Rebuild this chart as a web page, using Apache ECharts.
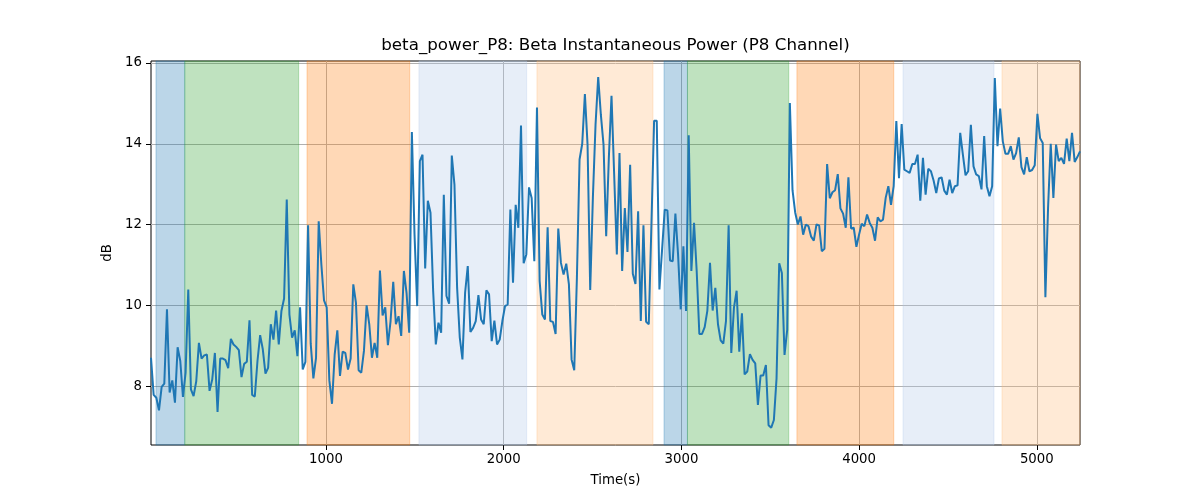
<!DOCTYPE html>
<html><head><meta charset="utf-8">
<script src="https://cdn.jsdelivr.net/npm/echarts@6/dist/echarts.min.js"></script>
<style>html,body{margin:0;padding:0;background:#fff}#c{width:1200px;height:500px}</style>
</head><body><div id="c"></div>
<script>
// ---- data ----
const chartTitle = 'beta_power_P8: Beta Instantaneous Power (P8 Channel)';
const tStart = 15;      // first sample time (s)
const tStep = 14.98;    // sampling step (s)
const powerDb = [
  8.70,7.78,7.71,7.40,7.98,8.06,9.90,7.84,8.14,7.59,8.96,8.62,7.73,8.33,10.39,7.92,7.75,8.12,9.07,8.68,8.76,8.78,7.88,8.16,8.82,7.36,8.68,8.68,8.64,8.44,9.17,9.03,8.97,8.89,8.22,8.55,8.60,9.63,7.78,7.74,8.62,9.26,8.91,8.31,
  8.45,9.53,9.15,9.87,9.03,9.86,10.17,12.62,9.77,9.20,9.38,8.74,9.95,8.41,8.60,11.98,9.05,8.19,8.70,12.08,11.01,10.12,9.95,8.14,7.56,8.78,9.38,8.25,8.85,8.82,8.41,8.68,10.52,10.06,8.39,8.33,8.87,10.00,9.53,8.70,9.07,8.70,10.86,9.75,
  9.95,9.01,9.61,10.58,9.53,9.73,9.24,10.85,10.31,9.32,14.29,11.75,9.98,13.57,13.73,10.91,12.59,12.29,10.35,9.03,9.57,9.32,12.74,10.23,10.04,13.71,12.99,10.43,9.20,8.66,10.31,10.97,9.34,9.44,9.61,10.25,9.65,9.53,10.37,10.27,9.11,9.62,9.03,9.15,
  9.61,9.98,10.02,12.37,10.56,12.49,11.92,14.45,11.04,11.26,12.92,12.66,11.09,14.90,10.60,9.77,9.65,11.93,9.61,9.59,9.29,11.90,11.05,10.76,11.03,10.52,8.66,8.39,10.68,13.61,14.00,15.23,13.98,10.38,12.66,14.47,15.65,14.72,13.98,11.71,13.65,15.19,13.24,11.26,
  13.77,10.85,12.41,11.32,13.48,10.78,10.53,12.33,9.61,11.98,9.59,9.53,12.00,14.57,14.57,10.39,11.38,12.37,12.35,11.11,11.09,12.27,11.26,9.90,11.46,9.86,14.21,10.85,12.04,10.85,9.29,9.29,9.46,9.86,11.05,9.87,10.43,9.53,9.13,9.05,9.61,11.98,8.82,9.94,
  10.36,8.85,9.80,8.29,8.36,8.79,8.65,8.56,7.53,8.26,8.26,8.52,7.03,6.97,7.16,8.19,11.04,10.80,8.77,9.39,15.01,12.85,12.30,12.00,12.20,11.75,12.00,11.96,11.70,11.60,12.00,11.98,11.34,11.40,13.50,12.65,12.80,12.85,13.25,12.40,12.27,11.92,13.17,11.90,
  11.92,11.45,11.75,12.02,11.96,12.25,12.04,11.92,11.60,12.18,12.08,12.12,12.66,12.95,12.49,12.95,14.56,13.15,14.49,13.36,13.32,13.28,13.50,13.50,13.73,12.59,13.65,12.74,13.38,13.32,13.09,12.78,13.14,13.17,12.84,12.74,13.11,12.78,12.95,12.97,14.27,13.73,13.22,13.32,
  14.47,13.44,13.24,13.20,12.87,14.19,12.95,12.70,12.95,15.63,13.94,14.87,14.06,13.75,13.75,13.94,13.61,13.77,14.16,13.42,13.24,13.67,13.32,13.35,13.47,14.74,14.14,14.02,10.20,12.41,14.00,12.66,13.98,13.57,13.65,13.50,14.13,13.57,14.27,13.55,13.67,13.81
];
const bandStart = [43, 205, 893, 1523, 2187, 2902, 3034, 3650, 4247, 4804];
const bandEnd   = [205, 846, 1471, 2129, 2840, 3034, 3604, 4195, 4759, 5243];
const bandKind  = ['blue','green','orange','lightblue','lightorange','blue','green','orange','lightblue','lightorange'];
const xTicks = [1000, 2000, 3000, 4000, 5000];
const yTicks = [8, 10, 12, 14, 16];
const xLabel = 'Time(s)';
const yLabel = 'dB';

// ---- styles ----
const bandColors = {
  blue: [31,119,180], green: [44,160,44], orange: [255,127,14],
  lightblue: [174,199,232], lightorange: [255,187,120]
};
const FONT = 'DejaVu Sans';

const seriesData = powerDb.map((v, i) => [tStart + i * tStep, v]);
const tEnd = tStart + (powerDb.length - 1) * tStep;

const areas = bandStart.map((s, i) => {
  const c = bandColors[bandKind[i]];
  return [
    { xAxis: s, itemStyle: { color: `rgba(${c[0]},${c[1]},${c[2]},0.3)`, borderColor: `rgba(${c[0]},${c[1]},${c[2]},0.3)`, borderWidth: 1 } },
    { xAxis: bandEnd[i] }
  ];
});

const chart = echarts.init(document.getElementById('c'), null, { renderer: 'canvas' });
chart.setOption({
  animation: false,
  backgroundColor: '#fff',
  textStyle: { fontFamily: FONT },
  graphic: [{
    type: 'text', z: 100,
    style: { x: 615.5, y: 46, text: chartTitle, textAlign: 'center', textVerticalAlign: 'middle',
             font: `16.7px "${FONT}"`, fill: '#000' }
  }],
  grid: { left: 151, right: 120, top: 61, bottom: 55, show: true, borderColor: '#000', borderWidth: 1, backgroundColor: 'transparent', containLabel: false },
  xAxis: {
    type: 'value', min: tStart, max: tEnd,
    name: xLabel, nameLocation: 'middle', nameGap: 29,
    nameTextStyle: { fontFamily: FONT, fontSize: 13.3, color: '#000' },
    axisLine: { show: false },
    axisTick: { show: true, length: 5, inside: false, customValues: xTicks, lineStyle: { color: '#000', width: 1 } },
    axisLabel: { customValues: xTicks, margin: 8, color: '#000', fontFamily: FONT, fontSize: 13.3, formatter: v => String(v) },
    splitLine: { show: true, lineStyle: { color: '#b0b0b0', width: 1 } }
  },
  yAxis: {
    type: 'value', min: 6.54, max: 16.05,
    name: yLabel, nameLocation: 'middle', nameGap: 34, nameRotate: 90,
    nameTextStyle: { fontFamily: FONT, fontSize: 13.3, color: '#000' },
    axisLine: { show: false },
    axisTick: { show: true, length: 5, inside: false, customValues: yTicks, lineStyle: { color: '#000', width: 1 } },
    axisLabel: { customValues: yTicks, margin: 9, color: '#000', fontFamily: FONT, fontSize: 13.3, formatter: v => String(v) },
    splitLine: { show: true, lineStyle: { color: '#b0b0b0', width: 1 } }
  },
  series: [{
    type: 'line', data: seriesData, showSymbol: false, symbol: 'none',
    lineStyle: { color: '#1f77b4', width: 2 }, itemStyle: { color: '#1f77b4' },
    clip: true,
    markArea: { silent: true, data: areas }
  }]
});
</script></body></html>
